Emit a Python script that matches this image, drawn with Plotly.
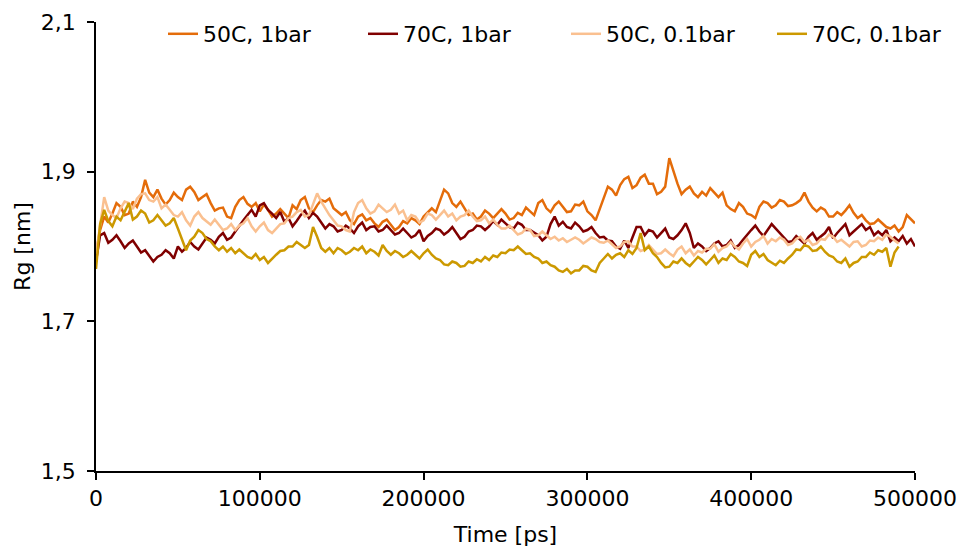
import plotly.graph_objects as go

time_ps = [i * 2500 for i in range(201)]

rg_50c_1bar = [
    1.790, 1.822, 1.840, 1.832, 1.844, 1.858, 1.853, 1.842, 1.844, 1.860,
    1.853, 1.866, 1.889, 1.872, 1.866, 1.876, 1.864, 1.856, 1.862, 1.872,
    1.866, 1.862, 1.876, 1.880, 1.873, 1.862, 1.866, 1.870, 1.858, 1.848,
    1.851, 1.852, 1.840, 1.838, 1.853, 1.862, 1.866, 1.857, 1.853, 1.858,
    1.847, 1.856, 1.849, 1.840, 1.844, 1.850, 1.844, 1.838, 1.855, 1.850,
    1.862, 1.866, 1.851, 1.846, 1.855, 1.862, 1.860, 1.864, 1.851, 1.846,
    1.842, 1.846, 1.835, 1.830, 1.840, 1.843, 1.835, 1.838, 1.831, 1.826,
    1.833, 1.836, 1.829, 1.822, 1.826, 1.834, 1.831, 1.838, 1.835, 1.830,
    1.840, 1.845, 1.851, 1.846, 1.862, 1.876, 1.871, 1.858, 1.853, 1.860,
    1.851, 1.842, 1.844, 1.836, 1.840, 1.848, 1.844, 1.838, 1.844, 1.850,
    1.844, 1.836, 1.838, 1.845, 1.842, 1.852, 1.847, 1.842, 1.858, 1.862,
    1.851, 1.846, 1.855, 1.860, 1.853, 1.846, 1.847, 1.856, 1.855, 1.860,
    1.847, 1.842, 1.835, 1.850, 1.866, 1.880, 1.876, 1.868, 1.882, 1.890,
    1.893, 1.878, 1.882, 1.892, 1.896, 1.884, 1.884, 1.870, 1.873, 1.880,
    1.918, 1.900, 1.884, 1.870, 1.876, 1.880, 1.871, 1.866, 1.873, 1.868,
    1.878, 1.872, 1.866, 1.872, 1.855, 1.850, 1.847, 1.858, 1.853, 1.844,
    1.842, 1.838, 1.853, 1.860, 1.858, 1.852, 1.855, 1.862, 1.860, 1.854,
    1.855, 1.858, 1.862, 1.872, 1.860, 1.852, 1.847, 1.852, 1.849, 1.840,
    1.840, 1.846, 1.842, 1.848, 1.855, 1.845, 1.838, 1.842, 1.835, 1.830,
    1.831, 1.836, 1.831, 1.826, 1.824, 1.828, 1.820, 1.826, 1.842, 1.836,
    1.831,
]

rg_70c_1bar = [
    1.780, 1.815, 1.818, 1.805, 1.809, 1.815, 1.807, 1.798, 1.804, 1.808,
    1.800, 1.792, 1.795, 1.788, 1.780, 1.786, 1.789, 1.795, 1.791, 1.784,
    1.800, 1.793, 1.798, 1.806, 1.800, 1.796, 1.804, 1.812, 1.809, 1.804,
    1.813, 1.818, 1.809, 1.812, 1.820, 1.828, 1.835, 1.842, 1.849, 1.840,
    1.855, 1.858, 1.849, 1.844, 1.838, 1.846, 1.833, 1.838, 1.827, 1.834,
    1.842, 1.848, 1.838, 1.845, 1.840, 1.832, 1.824, 1.830, 1.827, 1.820,
    1.822, 1.828, 1.824, 1.818, 1.827, 1.832, 1.822, 1.826, 1.827, 1.820,
    1.822, 1.828, 1.822, 1.816, 1.818, 1.824, 1.818, 1.812, 1.815, 1.822,
    1.807, 1.814, 1.818, 1.824, 1.822, 1.816, 1.820, 1.826, 1.818, 1.810,
    1.813, 1.820, 1.822, 1.828, 1.827, 1.822, 1.827, 1.834, 1.829, 1.836,
    1.831, 1.826, 1.824, 1.832, 1.829, 1.822, 1.822, 1.818, 1.815, 1.808,
    1.813, 1.830, 1.840, 1.828, 1.833, 1.826, 1.824, 1.832, 1.827, 1.820,
    1.822, 1.826, 1.818, 1.812, 1.813, 1.808, 1.807, 1.800, 1.797, 1.808,
    1.798, 1.812, 1.826, 1.826, 1.815, 1.822, 1.820, 1.812, 1.818, 1.824,
    1.812, 1.810, 1.815, 1.822, 1.831, 1.818, 1.798, 1.804, 1.800, 1.794,
    1.798, 1.804, 1.807, 1.800, 1.802, 1.808, 1.798, 1.802, 1.809, 1.816,
    1.822, 1.828, 1.820, 1.814, 1.822, 1.830, 1.824, 1.818, 1.813, 1.806,
    1.807, 1.814, 1.809, 1.804, 1.813, 1.818, 1.809, 1.814, 1.818, 1.826,
    1.811, 1.818, 1.824, 1.830, 1.815, 1.820, 1.824, 1.830, 1.822, 1.826,
    1.815, 1.820, 1.815, 1.822, 1.807, 1.812, 1.807, 1.814, 1.804, 1.810,
    1.800,
]

rg_50c_01bar = [
    1.790, 1.830, 1.866, 1.848, 1.842, 1.838, 1.851, 1.860, 1.858, 1.850,
    1.864, 1.870, 1.871, 1.862, 1.860, 1.866, 1.851, 1.856, 1.849, 1.842,
    1.840, 1.846, 1.835, 1.828, 1.840, 1.846, 1.838, 1.834, 1.829, 1.836,
    1.829, 1.822, 1.824, 1.830, 1.822, 1.828, 1.831, 1.838, 1.827, 1.820,
    1.827, 1.832, 1.822, 1.818, 1.824, 1.830, 1.831, 1.838, 1.840, 1.846,
    1.849, 1.840, 1.842, 1.856, 1.871, 1.860, 1.851, 1.842, 1.835, 1.828,
    1.827, 1.822, 1.820, 1.846, 1.858, 1.862, 1.851, 1.844, 1.847, 1.856,
    1.851, 1.846, 1.849, 1.856, 1.844, 1.848, 1.835, 1.842, 1.840, 1.832,
    1.835, 1.844, 1.842, 1.836, 1.842, 1.848, 1.840, 1.844, 1.835, 1.840,
    1.842, 1.848, 1.840, 1.834, 1.835, 1.840, 1.831, 1.836, 1.829, 1.824,
    1.824, 1.828, 1.822, 1.816, 1.818, 1.824, 1.822, 1.814, 1.815, 1.820,
    1.815, 1.810, 1.813, 1.808, 1.811, 1.806, 1.809, 1.812, 1.809, 1.804,
    1.808, 1.812, 1.810, 1.806, 1.805, 1.808, 1.803, 1.798, 1.800, 1.806,
    1.807, 1.800, 1.800, 1.794, 1.796, 1.802, 1.796, 1.790, 1.791, 1.796,
    1.791, 1.787, 1.796, 1.800, 1.791, 1.796, 1.788, 1.794, 1.792, 1.797,
    1.797, 1.803, 1.793, 1.798, 1.800, 1.806, 1.800, 1.796, 1.804, 1.810,
    1.800, 1.806, 1.809, 1.814, 1.804, 1.810, 1.807, 1.812, 1.809, 1.802,
    1.804, 1.810, 1.813, 1.806, 1.809, 1.802, 1.804, 1.810, 1.809, 1.816,
    1.813, 1.806, 1.809, 1.804, 1.800, 1.806, 1.807, 1.800, 1.802, 1.808,
    1.807, 1.812, 1.809, 1.816, 1.813, 1.808, 1.804,
]

rg_70c_01bar = [
    1.770, 1.830, 1.849, 1.834, 1.827, 1.840, 1.835, 1.846, 1.858, 1.836,
    1.840, 1.848, 1.844, 1.832, 1.835, 1.842, 1.835, 1.828, 1.831, 1.838,
    1.824, 1.810, 1.795, 1.808, 1.813, 1.822, 1.818, 1.810, 1.807, 1.800,
    1.795, 1.800, 1.793, 1.798, 1.791, 1.796, 1.791, 1.786, 1.784, 1.790,
    1.782, 1.786, 1.778, 1.784, 1.789, 1.794, 1.795, 1.800, 1.800, 1.806,
    1.802, 1.798, 1.802, 1.826, 1.813, 1.798, 1.793, 1.798, 1.791, 1.798,
    1.795, 1.790, 1.793, 1.798, 1.795, 1.800, 1.791, 1.796, 1.793, 1.788,
    1.802, 1.794, 1.789, 1.794, 1.791, 1.786, 1.789, 1.794, 1.789, 1.784,
    1.791, 1.796, 1.789, 1.784, 1.782, 1.776, 1.775, 1.780, 1.778, 1.773,
    1.774, 1.780, 1.778, 1.783, 1.780, 1.786, 1.782, 1.788, 1.786, 1.792,
    1.791, 1.796, 1.795, 1.800, 1.795, 1.790, 1.791, 1.786, 1.784, 1.778,
    1.780, 1.775, 1.773, 1.768, 1.766, 1.770, 1.764, 1.768, 1.768, 1.774,
    1.773, 1.768, 1.766, 1.778, 1.784, 1.790, 1.784, 1.789, 1.791, 1.786,
    1.795, 1.790, 1.798, 1.818, 1.795, 1.800, 1.791, 1.786, 1.778, 1.772,
    1.773, 1.780, 1.778, 1.784, 1.778, 1.774, 1.780, 1.786, 1.782, 1.776,
    1.782, 1.788, 1.778, 1.784, 1.782, 1.790, 1.786, 1.780, 1.778, 1.774,
    1.789, 1.794, 1.786, 1.790, 1.782, 1.778, 1.775, 1.781, 1.778, 1.784,
    1.789, 1.796, 1.795, 1.802, 1.800, 1.794, 1.795, 1.800, 1.793, 1.788,
    1.786, 1.780, 1.778, 1.784, 1.773, 1.778, 1.780, 1.786, 1.786, 1.792,
    1.789, 1.795, 1.793, 1.798, 1.773, 1.792, 1.800,
]

series_names = ["50C, 1bar", "70C, 1bar", "50C, 0.1bar", "70C, 0.1bar"]
series_colors = ["#E46C0A", "#800000", "#FAC090", "#CC9900"]

x_tickvals = [0, 100000, 200000, 300000, 400000, 500000]
x_ticktext = ["0", "100000", "200000", "300000", "400000", "500000"]
y_tickvals = [1.5, 1.7, 1.9, 2.1]
y_ticktext = ["1,5", "1,7", "1,9", "2,1"]

FONT = "Verdana, DejaVu Sans, sans-serif"
FS = 22
W, H = 960, 549
ML, MR, MT, MB = 96, 45, 22, 78
PW, PH = W - ML - MR, H - MT - MB

legend_ids = ["legend", "legend2", "legend3", "legend4"]
legend_left_px = [163, 363, 566, 772]

fig = go.Figure()
for name, color, vals, lid in zip(series_names, series_colors,
                                  [rg_50c_1bar, rg_70c_1bar, rg_50c_01bar, rg_70c_01bar],
                                  legend_ids):
    fig.add_trace(go.Scatter(
        x=time_ps[:len(vals)], y=vals, mode="lines", name=name,
        line=dict(color=color, width=2.5), legend=lid,
    ))

legend_layout = {}
for lid, lx in zip(legend_ids, legend_left_px):
    legend_layout[lid] = dict(
        orientation="h", xref="paper", yref="paper",
        x=(lx - ML) / PW, y=1 - (34 - MT) / PH, xanchor="left", yanchor="middle",
        font=dict(family=FONT, size=FS), bgcolor="rgba(0,0,0,0)",
    )

fig.update_layout(
    width=W, height=H,
    margin=dict(l=ML, r=MR, t=MT, b=MB),
    paper_bgcolor="white", plot_bgcolor="white",
    font=dict(family=FONT, size=FS, color="#000000"),
    showlegend=True,
    **legend_layout,
)
fig.update_xaxes(
    range=[0, 500000], tickvals=x_tickvals, ticktext=x_ticktext,
    showgrid=False, zeroline=False, showline=True, linecolor="black", linewidth=1.5,
    ticks="outside", ticklen=7, tickcolor="black", tickwidth=1.5,
    title=dict(text="Time [ps]", font=dict(family=FONT, size=FS), standoff=16),
    tickfont=dict(family=FONT, size=FS), automargin=False,
)
fig.update_yaxes(
    range=[1.5, 2.1], tickvals=y_tickvals, ticktext=y_ticktext,
    showgrid=False, zeroline=False, showline=True, linecolor="black", linewidth=1.5,
    ticks="outside", ticklen=7, tickcolor="black", tickwidth=1.5,
    ticklabelstandoff=7,
    title=dict(text="Rg [nm]", font=dict(family=FONT, size=FS), standoff=4),
    tickfont=dict(family=FONT, size=FS), automargin=False,
)

fig.write_html("out.html")
